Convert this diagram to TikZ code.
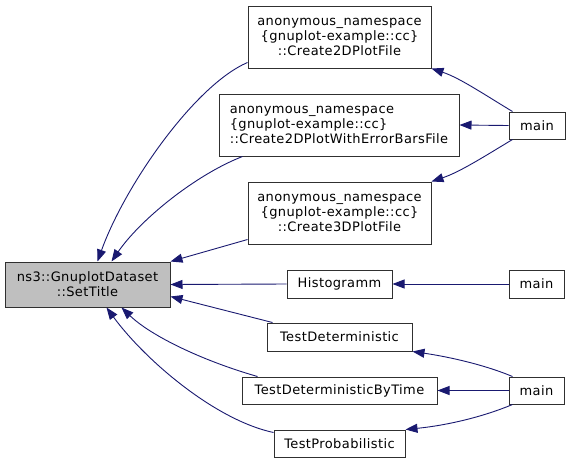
\documentclass[tikz,border=0pt]{standalone}
\usepackage{fontspec}
\setmainfont{DejaVu Sans}[LetterSpace=3]
\usetikzlibrary{arrows.meta,calc}
\definecolor{edgeblue}{HTML}{191970}
\definecolor{stgray}{HTML}{BFBFBF}
\definecolor{boxline}{HTML}{303030}
\tikzset{
  box/.style={draw=boxline, line width=1pt, fill=white, inner sep=0pt, align=center,
    font=\fontsize{13}{15}\selectfont},
  edge/.style={draw=edgeblue, line width=0.9pt, -{Triangle[length=12pt,width=9pt]}}
}
\begin{document}
\begin{tikzpicture}[x=1pt,y=-1pt]
\useasboundingbox (0,0) rectangle (571,464);
\node[box, fill=stgray, minimum width=165pt, minimum height=45pt] (ST) at (87.5,284.5) {ns3::GnuplotDataset\\::SetTitle};
\node[box, minimum width=183pt, minimum height=62pt] (C2D) at (339.5,37) {anonymous\_namespace\\\{gnuplot-example::cc\}\\::Create2DPlotFile};
\node[box, align=left, minimum width=240pt, minimum height=62pt] (C2DE) at (339,125) {anonymous\_namespace\\\{gnuplot-example::cc\}\\::Create2DPlotWithErrorBarsFile};
\node[box, minimum width=183pt, minimum height=62pt] (C3D) at (339.5,213) {anonymous\_namespace\\\{gnuplot-example::cc\}\\::Create3DPlotFile};
\node[box, minimum width=105pt, minimum height=28pt] (H) at (339.5,284) {Histogramm};
\node[box, minimum width=145pt, minimum height=28pt] (TD) at (339.5,337) {TestDeterministic};
\node[box, minimum width=195pt, minimum height=27pt] (TDT) at (339.5,390.5) {TestDeterministicByTime};
\node[box, minimum width=131pt, minimum height=27pt] (TP) at (339.5,443.5) {TestProbabilistic};
\node[box, minimum width=56pt, minimum height=27pt] (mainT) at (537,125.5) {main};
\node[box, minimum width=55pt, minimum height=28pt] (mainH) at (536.5,284) {main};
\node[box, minimum width=55pt, minimum height=27pt] (mainX) at (536.5,390.5) {main};

\draw[edge] ($(C2D.south west)+(0,-6)$) .. controls (195,85) and (125,185) .. ($(ST.north west)+(93,0)$);
\draw[edge] ($(C2DE.south west)+(24,0)$) .. controls (195,175) and (140,220) .. ($(ST.north west)+(107,0)$);
\draw[edge] ($(C3D.south west)+(0,-5)$) -- (ST.north east);
\draw[edge] (H.west) -- (ST.east);
\draw[edge] ($(TD.north west)+(6,0)$) -- ($(ST.south east)+(0,-11)$);
\draw[edge] ($(TDT.north west)+(16,0)$) .. controls (200,360) and (150,335) .. ($(ST.south west)+(117,0)$);
\draw[edge] ($(TP.north west)+(0,3)$) .. controls (215,420) and (145,360) .. ($(ST.south west)+(102,0)$);

\draw[edge] ($(mainT.north west)+(4,0)$) .. controls (485,95) and (460,78) .. (C2D.south east);
\draw[edge] (mainT.west) -- (C2DE.east);
\draw[edge] ($(mainT.south west)+(4,0)$) .. controls (485,156) and (460,172) .. (C3D.north east);
\draw[edge] (mainH.west) -- (H.east);
\draw[edge] ($(mainX.north west)+(4,0)$) .. controls (485,365) and (450,357) .. (TD.south east);
\draw[edge] (mainX.west) -- (TDT.east);
\draw[edge] ($(mainX.south west)+(4,0)$) .. controls (485,416) and (450,425) .. (TP.north east);
\end{tikzpicture}
\end{document}
